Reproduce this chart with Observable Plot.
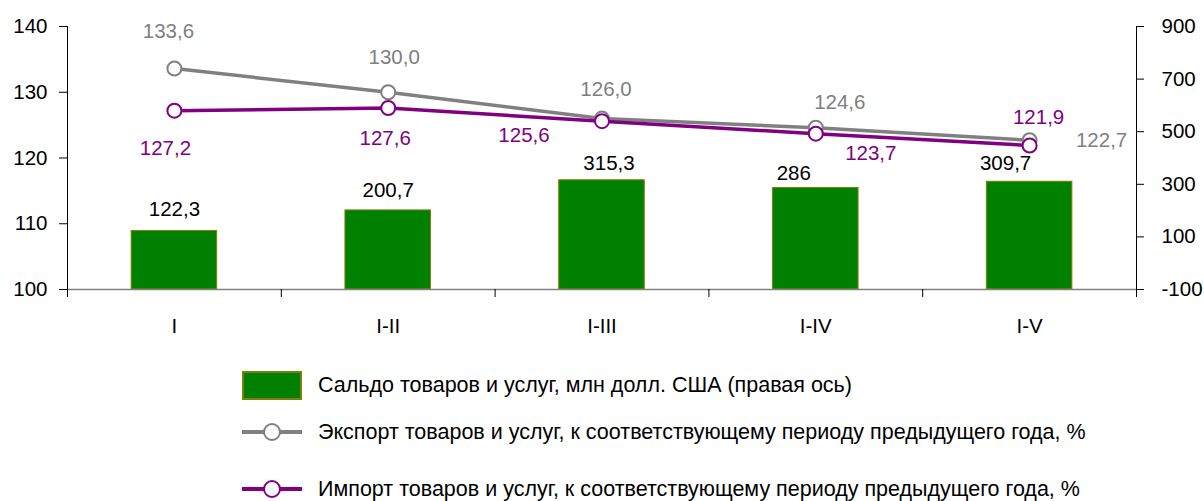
<!DOCTYPE html>
<html>
<head>
<meta charset="utf-8">
<script src="https://cdn.jsdelivr.net/npm/d3@7"></script>
<script src="https://cdn.jsdelivr.net/npm/@observablehq/plot@0.6"></script>
<style>
  html, body { margin: 0; padding: 0; background: #fff; }
  body { width: 1204px; height: 501px; overflow: hidden; font-family: "Liberation Sans", Arial, sans-serif; }
  #legend { position: relative; width: 1204px; height: 156px; }
  .row { position: absolute; left: 242px; display: flex; align-items: center; font-size: 21.5px; color: #000; white-space: nowrap; }
  .row svg { display: block; margin-right: 16px; }
</style>
</head>
<body>
<div id="chart"></div>
<div id="legend"></div>
<script>
// ---- data ----
const categories = ["I", "I-II", "I-III", "I-IV", "I-V"];
const saldo = [122.3, 200.7, 315.3, 286, 309.7];          // млн долл. США (правая ось)
const exportPct = [133.6, 130.0, 126.0, 124.6, 122.7];    // % к соотв. периоду
const importPct = [127.2, 127.6, 125.6, 123.7, 121.9];    // % к соотв. периоду
const leftTicks = [100, 110, 120, 130, 140];
const rightTicks = [-100, 100, 300, 500, 700, 900];
const legendLabels = [
  "Сальдо товаров и услуг, млн долл. США (правая ось)",
  "Экспорт товаров и услуг, к соответствующему периоду предыдущего года, %",
  "Импорт товаров и услуг, к соответствующему периоду предыдущего года, %"
];

// ---- scales mapping (right axis -> left axis) ----
const leftDomain = [100, 140];
const rightDomain = [-100, 900];
const toLeft = v => leftDomain[0] + (v - rightDomain[0]) * (leftDomain[1] - leftDomain[0]) / (rightDomain[1] - rightDomain[0]);
const toRight = y => rightDomain[0] + (y - leftDomain[0]) * (rightDomain[1] - rightDomain[0]) / (leftDomain[1] - leftDomain[0]);

const rows = categories.map((c, i) => ({
  c, i, mid: i + 0.5,
  saldo: saldo[i], saldoL: toLeft(saldo[i]),
  exp: exportPct[i], imp: importPct[i]
}));

const fmt1 = v => v.toFixed(1).replace(".", ",");
const fmtS = v => String(v).replace(".", ",");

const GREEN = "#008000", GRAY = "#808080", PURPLE = "#800080";

// label nudges (pixels) for the data labels
const expNudge = [[-6, -37], [6, -35], [4, -29], [24, -25], [72, 0]];
const impNudge = [[-9, 38], [-3, 30], [-78, 14], [55, 20], [9, -28]];
const salNudge = [[0, -22], [0, -20], [7, -17], [-22, -15], [-24, -18]];

const LBL = 20.5;
const W = 1204, H = 345;
const chart = Plot.plot({
  width: W, height: H,
  marginLeft: 67, marginRight: 68, marginTop: 26, marginBottom: 56,
  style: { fontFamily: "'Liberation Sans', Arial, sans-serif", fontSize: "20px", color: "#000", background: "#fff", overflow: "visible" },
  x: { type: "linear", domain: [0, categories.length], axis: null },
  y: { domain: leftDomain, axis: null },
  marks: [
    // bars (right axis values mapped to left scale)
    Plot.rectY(rows, { x1: d => d.i + 0.3, x2: d => d.i + 0.7, y1: leftDomain[0], y2: "saldoL", fill: GREEN, stroke: "#808000", strokeWidth: 1 }),
    // baseline
    Plot.ruleY([leftDomain[0]], { stroke: GRAY, strokeWidth: 1.5 }),
    // left axis
    Plot.ruleX([0], { stroke: "#000", strokeWidth: 1, insetBottom: -8 }),
    Plot.axisY({ anchor: "left", ticks: leftTicks, tickSize: 8, tickPadding: 12, fontSize: 20.5, label: null, tickFormat: d => String(d) }),
    // right axis
    Plot.ruleX([categories.length], { stroke: "#000", strokeWidth: 1, insetBottom: -8 }),
    Plot.axisY({ anchor: "right", ticks: rightTicks.map(toLeft), tickSize: 7, tickPadding: 18, fontSize: 20.5, label: null, tickFormat: y => String(Math.round(toRight(y))) }),
    // x tick marks at category boundaries
    Plot.axisX({ anchor: "bottom", ticks: categories.slice(1).map((c, i) => i + 1), tickSize: 8, tickFormat: () => "", label: null }),
    // category labels
    Plot.text(rows, { x: "mid", y: leftDomain[0], dy: 37, text: "c", fontSize: LBL, fill: "#000" }),
    // export line
    Plot.line(rows, { x: "mid", y: "exp", stroke: GRAY, strokeWidth: 3.5 }),
    Plot.dot(rows, { x: "mid", y: "exp", r: 7, fill: "#fff", stroke: GRAY, strokeWidth: 2 }),
    // import line
    Plot.line(rows, { x: "mid", y: "imp", stroke: PURPLE, strokeWidth: 3.5 }),
    Plot.dot(rows, { x: "mid", y: "imp", r: 7, fill: "#fff", stroke: PURPLE, strokeWidth: 2 }),
    // data labels
    ...rows.map((r, i) => Plot.text([r], { x: "mid", y: "saldoL", text: d => fmtS(d.saldo), dx: salNudge[i][0], dy: salNudge[i][1], fill: "#000", fontSize: LBL })),
    ...rows.map((r, i) => Plot.text([r], { x: "mid", y: "exp", text: d => fmt1(d.exp), dx: expNudge[i][0], dy: expNudge[i][1], fill: GRAY, fontSize: LBL })),
    ...rows.map((r, i) => Plot.text([r], { x: "mid", y: "imp", text: d => fmt1(d.imp), dx: impNudge[i][0], dy: impNudge[i][1], fill: PURPLE, fontSize: LBL }))
  ]
});
document.getElementById("chart").appendChild(chart);

// ---- legend ----
const legend = d3.select("#legend");
const items = [
  { label: legendLabels[0], kind: "bar", color: GREEN, top: 26, h: 29 },
  { label: legendLabels[1], kind: "line", color: GRAY, top: 77, h: 20 },
  { label: legendLabels[2], kind: "line", color: PURPLE, top: 134, h: 20 }
];
items.forEach(it => {
  const row = legend.append("div").attr("class", "row").style("top", it.top + "px").style("height", it.h + "px");
  const s = row.append("svg").attr("width", 60).attr("height", it.h);
  if (it.kind === "bar") {
    s.append("rect").attr("x", 1).attr("y", 1).attr("width", 58).attr("height", it.h - 2).attr("fill", it.color).attr("stroke", "#808000").attr("stroke-width", 2);
  } else {
    s.append("line").attr("x1", 0).attr("x2", 60).attr("y1", it.h / 2).attr("y2", it.h / 2).attr("stroke", it.color).attr("stroke-width", 4);
    s.append("circle").attr("cx", 30).attr("cy", it.h / 2).attr("r", 8).attr("fill", "#fff").attr("stroke", it.color).attr("stroke-width", 2);
  }
  row.append("span").text(it.label);
});
</script>
</body>
</html>
